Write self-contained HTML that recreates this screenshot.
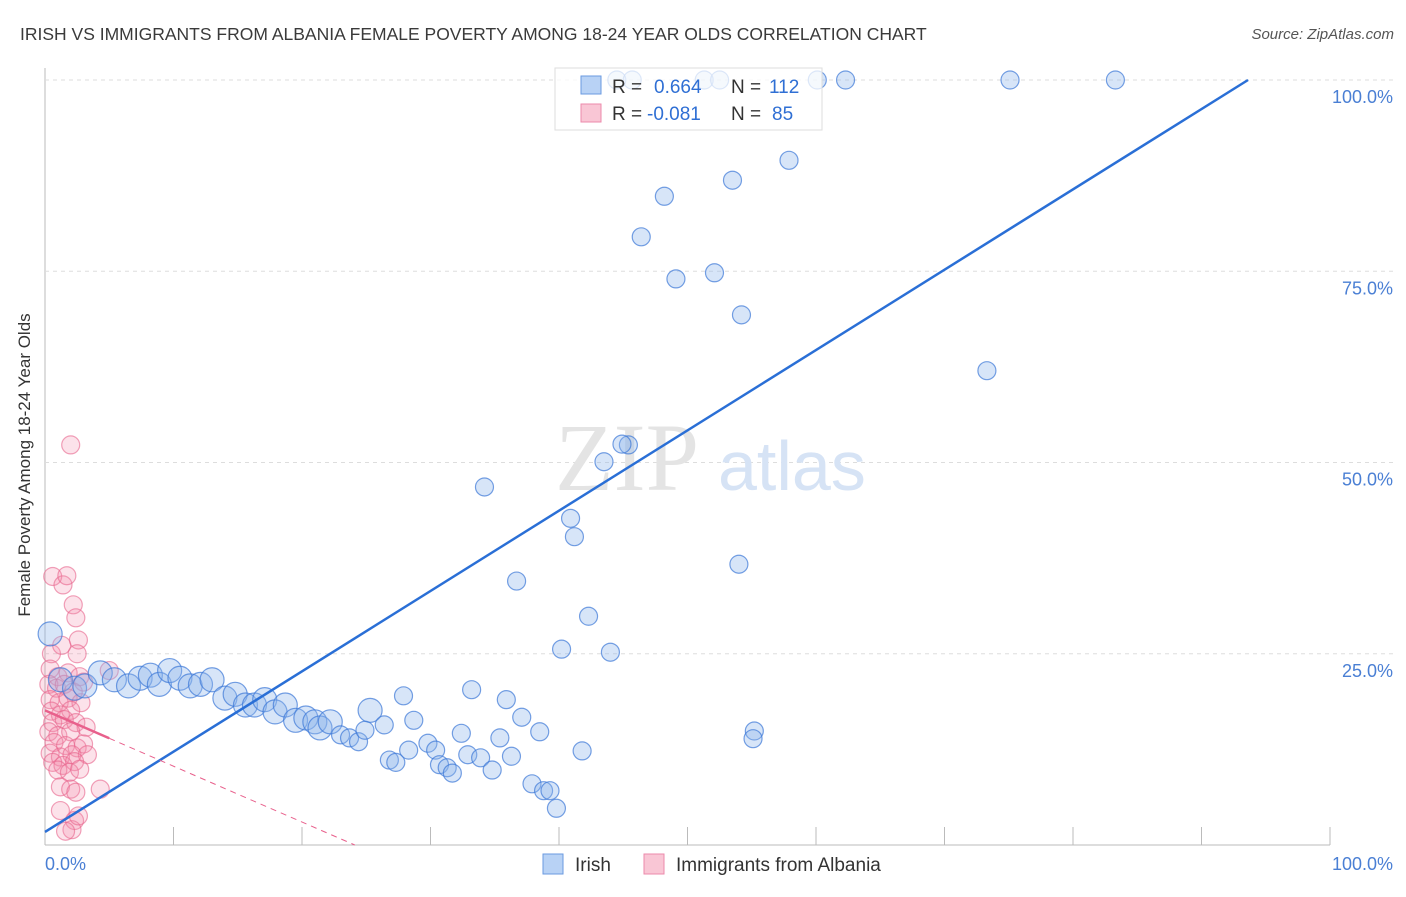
<!DOCTYPE html>
<html><head><meta charset="utf-8"><style>
body{margin:0;background:#fff;font-family:"Liberation Sans",sans-serif}
</style></head><body>
<svg width="1406" height="892" xmlns="http://www.w3.org/2000/svg" font-family="Liberation Sans, sans-serif">
<text x="20" y="40" font-size="17.5" fill="#3a3a3a">IRISH VS IMMIGRANTS FROM ALBANIA FEMALE POVERTY AMONG 18-24 YEAR OLDS CORRELATION CHART</text>
<text x="1394" y="39" font-size="15" fill="#555" text-anchor="end" font-style="italic">Source: ZipAtlas.com</text>
<g id="grid"></g>
<text x="555" y="490" font-size="96" fill="#e4e4e4" font-family="Liberation Serif, serif">ZIP</text>
<text x="718" y="490" font-size="70" fill="#d6e3f5">atlas</text>
<g id="pts"></g>
<g id="lines"></g>
<text x="22" y="457" font-size="17" fill="#333" transform="rotate(-90 30 457)" text-anchor="middle">Female Poverty Among 18-24 Year Olds</text>
<text x="45" y="870" font-size="18" fill="#4a7fd4">0.0%</text>
<text x="1393" y="870" font-size="18" fill="#4a7fd4" text-anchor="end">100.0%</text>
<g>
<rect x="555" y="68" width="267" height="62" fill="rgba(255,255,255,0.75)" stroke="#ddd"/>
<rect x="581" y="76" width="20" height="18" fill="#b8d2f5" stroke="#6a9ae0"/>
<rect x="581" y="104" width="20" height="18" fill="#f9c6d5" stroke="#ec8aab"/>
<text x="612" y="93" font-size="19" fill="#333">R =</text>
<text x="654" y="93" font-size="19" fill="#2f6fd4">0.664</text>
<text x="731" y="93" font-size="19" fill="#333">N =</text>
<text x="769" y="93" font-size="19" fill="#2f6fd4">112</text>
<text x="612" y="120" font-size="19" fill="#333">R =</text>
<text x="647" y="120" font-size="19" fill="#2f6fd4">-0.081</text>
<text x="731" y="120" font-size="19" fill="#333">N =</text>
<text x="772" y="120" font-size="19" fill="#2f6fd4">85</text>
</g>
<g>
<rect x="543" y="854" width="20" height="20" fill="#b8d2f5" stroke="#6a9ae0"/>
<text x="575" y="871" font-size="19" fill="#333">Irish</text>
<rect x="644" y="854" width="20" height="20" fill="#f9c6d5" stroke="#ec8aab"/>
<text x="676" y="871" font-size="19" fill="#333">Immigrants from Albania</text>
</g>
</svg>
<script>
const yTicks=[25,50,75,100];
const yTickLabels=["25.0%","50.0%","75.0%","100.0%"];
const xTicks=[10,20,30,40,50,60,70,80,90,100];
const irishX=[0.4,44.5,45.7,51.3,52.5,60.1,62.3,75.1,83.3,57.9,53.5,48.2,46.4,49.1,52.1,54.2,73.3,45.4,44.9,43.5,34.2,40.9,41.2,54.0,36.7,42.3,40.2,44.0,33.2,35.9,27.9,25.3,37.1,28.7,26.4,32.4,38.5,35.4,55.2,55.1,41.8,28.3,29.8,30.4,32.9,33.9,36.3,26.8,27.3,30.7,31.3,31.7,34.8,37.9,38.8,39.3,39.8,
1.2,2.3,3.1,4.3,5.4,6.5,7.4,8.2,8.9,9.7,10.5,11.3,12.1,13.0,14.0,14.8,15.6,16.3,17.1,17.9,18.7,19.5,20.3,21.0,21.4,22.2,23.0,23.7,24.4,24.9];
const irishY=[27.6,100,100,100,100,100,100,100,100,89.5,86.9,84.8,79.5,74.0,74.8,69.3,62.0,52.3,52.4,50.1,46.8,42.7,40.3,36.7,34.5,29.9,25.6,25.2,20.3,19.0,19.5,17.6,16.7,16.3,15.7,14.6,14.8,14.0,14.9,13.9,12.3,12.4,13.3,12.4,11.8,11.4,11.6,11.1,10.8,10.5,10.1,9.4,9.8,8.0,7.1,7.1,4.8,
21.6,20.5,20.8,22.5,21.6,20.8,21.8,22.2,21.0,22.8,21.8,20.8,21.0,21.6,19.2,19.7,18.3,18.3,19.0,17.4,18.3,16.3,16.6,16.1,15.3,16.1,14.4,14.0,13.5,15.0];
const albX=[2.0,0.6,1.4,2.2,1.7,2.4,2.6,0.5,1.3,2.5,0.4,1.0,1.8,2.7,5.0,0.3,0.9,1.5,2.2,3.0,0.4,1.1,1.8,2.8,0.5,1.2,2.0,0.6,1.5,2.4,3.2,0.3,1.0,2.0,0.7,1.6,2.5,3.0,0.4,1.2,2.1,3.3,0.6,1.4,2.3,1.0,1.9,2.7,1.2,2.0,2.4,4.3,1.2,2.3,2.1,2.6,1.6];
const albY=[52.3,35.1,34.0,31.4,35.2,29.7,26.8,25.0,26.1,25.0,23.0,22.0,22.5,22.0,22.8,21.0,20.5,21.0,20.0,21.3,19.0,18.6,19.2,18.6,17.5,17.0,17.6,16.0,16.4,16.0,15.4,14.8,14.3,14.8,13.4,13.0,12.7,13.2,12.0,11.5,11.8,11.8,10.8,10.4,10.9,9.8,9.5,9.9,7.6,7.3,6.9,7.3,4.5,3.2,2.0,3.8,1.8];
const irishFit=[1.7,1.05];
const albFit=[17.6,-0.73];
const X=v=>45+12.85*v, Y=v=>845-7.65*v;
const NS="http://www.w3.org/2000/svg";
function mk(t,a,p){const e=document.createElementNS(NS,t);for(const k in a)e.setAttribute(k,a[k]);p.appendChild(e);return e;}
const g=document.getElementById('grid');
const ax=mk('line',{x1:45,y1:68,x2:45,y2:845,stroke:'#bbb'},g);


const bx=mk('line',{x1:45,y1:845,x2:1330,y2:845,stroke:'#bbb'},g);


yTicks.forEach((v,i)=>{
 const l=mk('line',{x1:45,y1:Y(v),x2:1393,y2:Y(v),stroke:'#ddd','stroke-dasharray':'4,4'},g);
 
 
 const t=mk('text',{x:1393,y:Y(v)+23,'font-size':18,fill:'#4a7fd4','text-anchor':'end'},g);
 t.textContent=yTickLabels[i];
 
 
});
xTicks.forEach(v=>{
 const l=mk('line',{x1:X(v),y1:827,x2:X(v),y2:845,stroke:'#bbb'},g);
 
 
});
const p=document.getElementById('pts');
albX.forEach((x,i)=>{
 const c=mk('circle',{cx:X(x),cy:Y(albY[i]),r:9,fill:'rgba(244,140,170,0.25)',stroke:'rgba(232,100,140,0.6)','stroke-width':1.2},p);
 
 
});
irishX.forEach((x,i)=>{
 const big=x<26&&irishY[i]>15;
 const c=mk('circle',{cx:X(x),cy:Y(irishY[i]),r:big?12:9,fill:'rgba(140,180,235,0.35)',stroke:'rgba(60,120,215,0.7)','stroke-width':1.2},p);
 
 
});
const L=document.getElementById('lines');
let xe=(100-irishFit[0])/irishFit[1];
const bl=mk('line',{x1:X(0),y1:Y(irishFit[0]),x2:X(xe),y2:Y(100),stroke:'#2a6fd6','stroke-width':2.5},L);


const xs=5, x0=-albFit[0]/albFit[1];
const pl=mk('line',{x1:X(0),y1:Y(albFit[0]),x2:X(xs),y2:Y(albFit[0]+albFit[1]*xs),stroke:'#e8608c','stroke-width':2.5},L);


const pd=mk('line',{x1:X(xs),y1:Y(albFit[0]+albFit[1]*xs),x2:X(x0),y2:Y(0),stroke:'#e8608c','stroke-width':1,'stroke-dasharray':'6,5'},L);


</script>
</body></html>
